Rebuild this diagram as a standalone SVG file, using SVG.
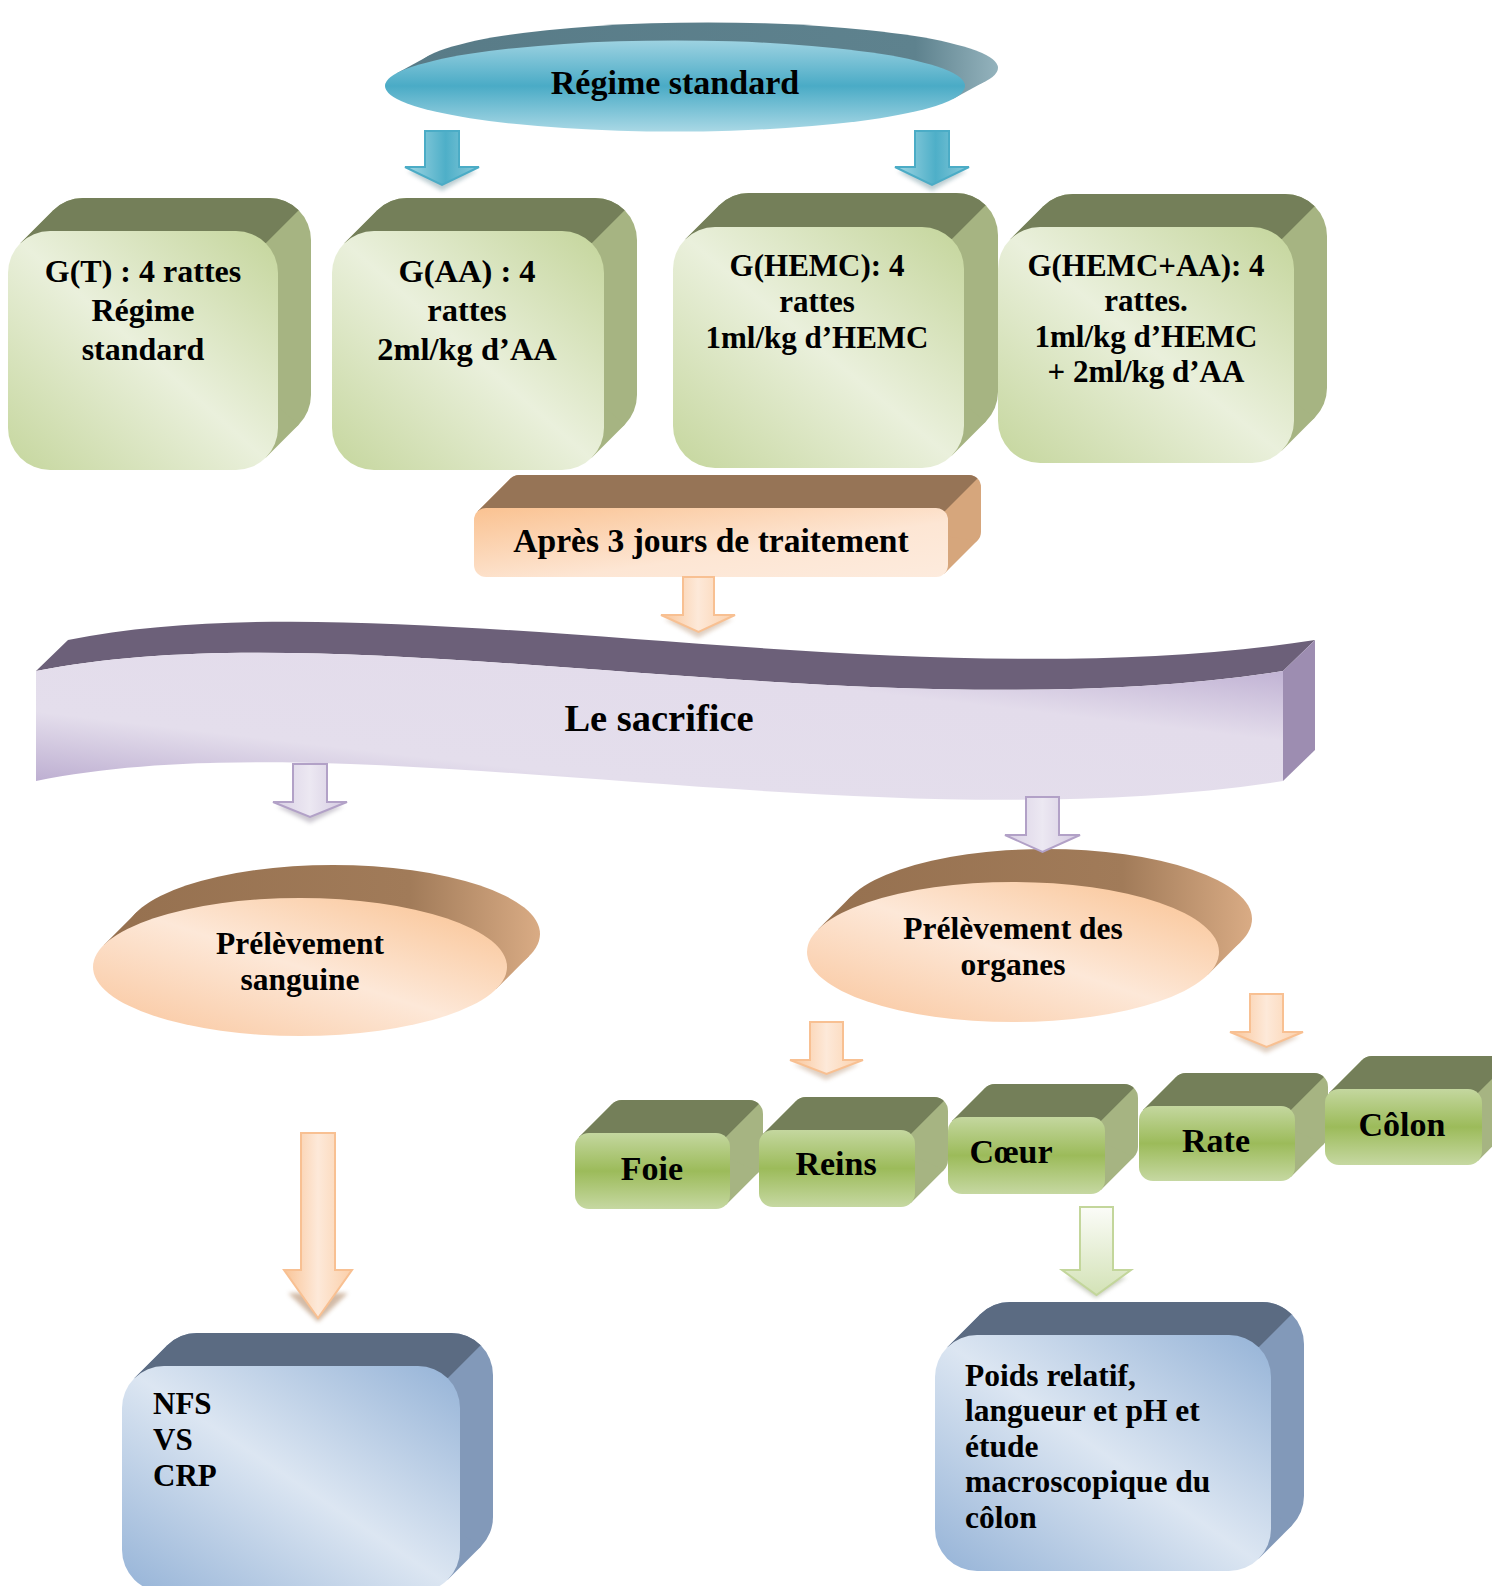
<svg xmlns="http://www.w3.org/2000/svg" width="1492" height="1586" viewBox="0 0 1492 1586">
<defs>
<style>
.t{font-family:"Liberation Serif","Times New Roman",serif;font-weight:bold;fill:#000;text-anchor:middle}
.tl{font-family:"Liberation Serif","Times New Roman",serif;font-weight:bold;fill:#000;text-anchor:start}
.gtop{fill:#747f59}
.gside{fill:#a6b482}
.btop{fill:#5b6b82}
.bside{fill:#8299b9}
.otop{fill:#967456}
.oside{fill:#d6a67c}
</style>
<linearGradient id="gFront" x1="0" y1="1" x2="1" y2="0">
<stop offset="0" stop-color="#c5d69d"/><stop offset="0.5" stop-color="#eaf0dc"/><stop offset="1" stop-color="#c4d59b"/>
</linearGradient>
<linearGradient id="gOrgan" x1="0" y1="0" x2="0" y2="1">
<stop offset="0" stop-color="#c4d79f"/><stop offset="0.5" stop-color="#9cbb5a"/><stop offset="1" stop-color="#c6d8a2"/>
</linearGradient>
<linearGradient id="bFront" x1="0" y1="1" x2="1" y2="0">
<stop offset="0" stop-color="#95b3d7"/><stop offset="0.5" stop-color="#dce6f2"/><stop offset="1" stop-color="#95b3d7"/>
</linearGradient>
<linearGradient id="oFront" x1="0" y1="1" x2="1" y2="0">
<stop offset="0" stop-color="#f9c49a"/><stop offset="0.5" stop-color="#fde8d8"/><stop offset="1" stop-color="#f9c08e"/>
</linearGradient>
<linearGradient id="aFront" x1="0" y1="0" x2="1" y2="1">
<stop offset="0" stop-color="#fac291"/><stop offset="0.6" stop-color="#fde6d4"/><stop offset="1" stop-color="#fdebdd"/>
</linearGradient>
<linearGradient id="tealFront" x1="0" y1="0" x2="0" y2="1">
<stop offset="0" stop-color="#9dd2e1"/><stop offset="0.5" stop-color="#4aabc6"/><stop offset="1" stop-color="#a9d8e5"/>
</linearGradient>
<linearGradient id="tealBack" gradientUnits="userSpaceOnUse" x1="396" y1="0" x2="1000" y2="0">
<stop offset="0" stop-color="#587b87"/><stop offset="0.86" stop-color="#5e828e"/><stop offset="1" stop-color="#95b4be"/>
</linearGradient>
<linearGradient id="oBackL" gradientUnits="userSpaceOnUse" x1="100" y1="0" x2="542" y2="0">
<stop offset="0" stop-color="#95704f"/><stop offset="0.7" stop-color="#a17b59"/><stop offset="1" stop-color="#daac85"/>
</linearGradient>
<linearGradient id="oBackR" gradientUnits="userSpaceOnUse" x1="815" y1="0" x2="1254" y2="0">
<stop offset="0" stop-color="#95704f"/><stop offset="0.7" stop-color="#a17b59"/><stop offset="1" stop-color="#daac85"/>
</linearGradient>
<linearGradient id="pFront" x1="0" y1="1" x2="1" y2="0">
<stop offset="0" stop-color="#b3a2ca"/><stop offset="0.3" stop-color="#e4deec"/><stop offset="0.7" stop-color="#e3dceb"/><stop offset="1" stop-color="#b8a8ce"/>
</linearGradient>
<linearGradient id="arO" x1="0" y1="0" x2="1" y2="0">
<stop offset="0" stop-color="#f9c497"/><stop offset="0.5" stop-color="#fde9d9"/><stop offset="1" stop-color="#fbcfa9"/>
</linearGradient>
<linearGradient id="arB" x1="0" y1="0" x2="1" y2="0">
<stop offset="0" stop-color="#a3d7e4"/><stop offset="0.55" stop-color="#4eafc8"/><stop offset="1" stop-color="#8ccbdb"/>
</linearGradient>
<linearGradient id="arP" x1="0" y1="0" x2="1" y2="0">
<stop offset="0" stop-color="#d8cfe4"/><stop offset="0.5" stop-color="#ece8f2"/><stop offset="1" stop-color="#d3c8e0"/>
</linearGradient>
<linearGradient id="arG" x1="0" y1="0" x2="0" y2="1">
<stop offset="0" stop-color="#fbfcf8"/><stop offset="1" stop-color="#d3e2b6"/>
</linearGradient>
<filter id="blur" x="-20%" y="-50%" width="140%" height="200%"><feGaussianBlur stdDeviation="2"/></filter>
</defs>
<rect width="1492" height="1586" fill="#ffffff"/>

<g id="regime">
<ellipse cx="708" cy="68" rx="290" ry="45.5" fill="url(#tealBack)"/>
<polygon points="396.3,73.4 429.3,55.4 986.7,80.6 953.7,98.6" fill="url(#tealBack)"/>
<ellipse cx="675" cy="86" rx="290" ry="45.5" fill="url(#tealFront)"/>
<text class="t" x="675" y="94" font-size="34">Régime standard</text>
</g>

<g id="gT">
<rect x="41" y="198" width="270" height="239" rx="42" class="gside"/>
<polygon points="20.3,243.3 53.3,210.3 298.7,424.7 265.7,457.7" class="gside"/>
<path d="M20.3,243.3 L53.3,210.3 A42,42 0 0 1 83,198 H269 A42,42 0 0 1 298.7,210.3 L265.7,243.3 Z" class="gtop"/>
<rect x="8" y="231" width="270" height="239" rx="42" fill="url(#gFront)"/>
<text class="t" font-size="32"><tspan x="143" y="282">G(T) : 4 rattes</tspan><tspan x="143" y="321">Régime</tspan><tspan x="143" y="360">standard</tspan></text>
</g>

<g id="gAA">
<rect x="365" y="198" width="272" height="239" rx="42" class="gside"/>
<polygon points="344.3,243.3 377.3,210.3 624.7,424.7 591.7,457.7" class="gside"/>
<path d="M344.3,243.3 L377.3,210.3 A42,42 0 0 1 407,198 H595 A42,42 0 0 1 624.7,210.3 L591.7,243.3 Z" class="gtop"/>
<rect x="332" y="231" width="272" height="239" rx="42" fill="url(#gFront)"/>
<text class="t" font-size="32.5"><tspan x="467" y="282">G(AA) : 4</tspan><tspan x="467" y="321">rattes</tspan><tspan x="467" y="360">2ml/kg d’AA</tspan></text>
</g>

<g id="gHEMC">
<rect x="707" y="193" width="291" height="241" rx="42" class="gside"/>
<polygon points="685.3,239.3 719.3,205.3 985.7,421.7 951.7,455.7" class="gside"/>
<path d="M685.3,239.3 L719.3,205.3 A42,42 0 0 1 749,193 H956 A42,42 0 0 1 985.7,205.3 L951.7,239.3 Z" class="gtop"/>
<rect x="673" y="227" width="291" height="241" rx="42" fill="url(#gFront)"/>
<text class="t" font-size="31"><tspan x="817" y="276">G(HEMC): 4</tspan><tspan x="817" y="312">rattes</tspan><tspan x="817" y="348">1ml/kg d’HEMC</tspan></text>
</g>

<g id="gHEMCAA">
<rect x="1031" y="194" width="296" height="236" rx="42" class="gside"/>
<polygon points="1010.3,239.3 1043.3,206.3 1314.7,417.7 1281.7,450.7" class="gside"/>
<path d="M1010.3,239.3 L1043.3,206.3 A42,42 0 0 1 1073,194 H1285 A42,42 0 0 1 1314.7,206.3 L1281.7,239.3 Z" class="gtop"/>
<rect x="998" y="227" width="296" height="236" rx="42" fill="url(#gFront)"/>
<text class="t" font-size="31"><tspan x="1146" y="276">G(HEMC+AA): 4</tspan><tspan x="1146" y="311">rattes.</tspan><tspan x="1146" y="347">1ml/kg d’HEMC</tspan><tspan x="1146" y="382">+ 2ml/kg d’AA</tspan></text>
</g>

<g id="apres">
<rect x="507" y="475" width="474" height="69" rx="12" class="oside"/>
<polygon points="477.5,511.5 510.5,478.5 977.5,540.5 944.5,573.5" class="oside"/>
<path d="M477.5,511.5 L510.5,478.5 A12,12 0 0 1 519,475 H969 A12,12 0 0 1 977.5,478.5 L944.5,511.5 Z" class="otop"/>
<rect x="474" y="508" width="474" height="69" rx="12" fill="url(#aFront)"/>
<text class="t" x="711" y="552" font-size="33.6">Après 3 jours de traitement</text>
</g>

<g id="sacrifice">
<path d="M36,671 C354,607 860,736 1283,671 L1315,640 C892,705 386,576 68,640 Z" fill="#6c6079"/>
<path d="M1283,671 L1315,640 L1315,750 L1283,781 Z" fill="#9d8db1"/>
<path d="M36,671 C354,607 860,736 1283,671 L1283,781 C860,846 354,716 36,781 Z" fill="url(#pFront)"/>
<text class="t" x="659" y="731" font-size="38.5">Le sacrifice</text>
</g>

<g id="sanguine">
<ellipse cx="333" cy="934" rx="207" ry="69" fill="url(#oBackL)"/>
<polygon points="103.6,945.2 136.6,912.2 529.4,955.8 496.4,988.8" fill="url(#oBackL)"/>
<ellipse cx="300" cy="967" rx="207" ry="69" fill="url(#oFront)"/>
<text class="t" font-size="31.5"><tspan x="300" y="954">Prélèvement</tspan><tspan x="300" y="990">sanguine</tspan></text>
</g>

<g id="organes">
<ellipse cx="1046" cy="919" rx="206" ry="70" fill="url(#oBackR)"/>
<polygon points="818,929.5 851,896.5 1241,941.5 1208,974.5" fill="url(#oBackR)"/>
<ellipse cx="1013" cy="952" rx="206" ry="70" fill="url(#oFront)"/>
<text class="t" font-size="31.5"><tspan x="1013" y="939">Prélèvement des</tspan><tspan x="1013" y="975">organes</tspan></text>
</g>

<g id="foie">
<rect x="608" y="1100" width="155" height="76" rx="14" class="gside"/>
<polygon points="579.1,1137.1 612.1,1104.1 758.9,1171.9 725.9,1204.9" class="gside"/>
<path d="M579.1,1137.1 L612.1,1104.1 A14,14 0 0 1 622,1100 H749 A14,14 0 0 1 758.9,1104.1 L725.9,1137.1 Z" class="gtop"/>
<rect x="575" y="1133" width="155" height="76" rx="14" fill="url(#gOrgan)"/>
<text class="t" x="652" y="1180" font-size="34">Foie</text>
</g>

<g id="reins">
<rect x="792" y="1097" width="156" height="77" rx="14" class="gside"/>
<polygon points="763.1,1134.1 796.1,1101.1 943.9,1169.9 910.9,1202.9" class="gside"/>
<path d="M763.1,1134.1 L796.1,1101.1 A14,14 0 0 1 806,1097 H934 A14,14 0 0 1 943.9,1101.1 L910.9,1134.1 Z" class="gtop"/>
<rect x="759" y="1130" width="156" height="77" rx="14" fill="url(#gOrgan)"/>
<text class="t" x="836" y="1175" font-size="34">Reins</text>
</g>

<g id="coeur">
<rect x="981" y="1084" width="157" height="77" rx="14" class="gside"/>
<polygon points="952.1,1121.1 985.1,1088.1 1133.9,1156.9 1100.9,1189.9" class="gside"/>
<path d="M952.1,1121.1 L985.1,1088.1 A14,14 0 0 1 995,1084 H1124 A14,14 0 0 1 1133.9,1088.1 L1100.9,1121.1 Z" class="gtop"/>
<rect x="948" y="1117" width="157" height="77" rx="14" fill="url(#gOrgan)"/>
<text class="t" x="1011" y="1163" font-size="34">Cœur</text>
</g>

<g id="rate">
<rect x="1172" y="1073" width="156" height="75" rx="14" class="gside"/>
<polygon points="1143.1,1110.1 1176.1,1077.1 1323.9,1143.9 1290.9,1176.9" class="gside"/>
<path d="M1143.1,1110.1 L1176.1,1077.1 A14,14 0 0 1 1186,1073 H1314 A14,14 0 0 1 1323.9,1077.1 L1290.9,1110.1 Z" class="gtop"/>
<rect x="1139" y="1106" width="156" height="75" rx="14" fill="url(#gOrgan)"/>
<text class="t" x="1216" y="1152" font-size="34">Rate</text>
</g>

<g id="colon">
<rect x="1358" y="1056" width="157" height="76" rx="14" class="gside"/>
<polygon points="1329.1,1093.1 1362.1,1060.1 1510.9,1127.9 1477.9,1160.9" class="gside"/>
<path d="M1329.1,1093.1 L1362.1,1060.1 A14,14 0 0 1 1372,1056 H1501 A14,14 0 0 1 1510.9,1060.1 L1477.9,1093.1 Z" class="gtop"/>
<rect x="1325" y="1089" width="157" height="76" rx="14" fill="url(#gOrgan)"/>
<text class="t" x="1402" y="1136" font-size="34">Côlon</text>
</g>

<g id="nfs">
<rect x="155" y="1333" width="338" height="226" rx="42" class="bside"/>
<polygon points="134.3,1378.3 167.3,1345.3 480.7,1546.7 447.7,1579.7" class="bside"/>
<path d="M134.3,1378.3 L167.3,1345.3 A42,42 0 0 1 197,1333 H451 A42,42 0 0 1 480.7,1345.3 L447.7,1378.3 Z" class="btop"/>
<rect x="122" y="1366" width="338" height="226" rx="42" fill="url(#bFront)"/>
<text class="tl" font-size="31"><tspan x="153" y="1414">NFS</tspan><tspan x="153" y="1450">VS</tspan><tspan x="153" y="1486">CRP</tspan></text>
</g>

<g id="poids">
<rect x="968" y="1302" width="336" height="236" rx="42" class="bside"/>
<polygon points="947.3,1347.3 980.3,1314.3 1291.7,1525.7 1258.7,1558.7" class="bside"/>
<path d="M947.3,1347.3 L980.3,1314.3 A42,42 0 0 1 1010,1302 H1262 A42,42 0 0 1 1291.7,1314.3 L1258.7,1347.3 Z" class="btop"/>
<rect x="935" y="1335" width="336" height="236" rx="42" fill="url(#bFront)"/>
<text class="tl" font-size="31.5"><tspan x="965" y="1386">Poids relatif,</tspan><tspan x="965" y="1421">langueur et pH et</tspan><tspan x="965" y="1457">étude</tspan><tspan x="965" y="1492">macroscopique du</tspan><tspan x="965" y="1528">côlon</tspan></text>
</g>

<g id="connectors" stroke-width="2" stroke-linejoin="miter">
<polygon points="407,171 477,171 442,191" fill="#3e6f7c" opacity="0.35" filter="url(#blur)"/>
<path d="M425,131 H459 V167 H479 L442,185 L405,167 H425 Z" fill="url(#arB)" stroke="#4bacc6"/>
<polygon points="897,171 967,171 932,191" fill="#3e6f7c" opacity="0.35" filter="url(#blur)"/>
<path d="M915,131 H949 V167 H969 L932,185 L895,167 H915 Z" fill="url(#arB)" stroke="#4bacc6"/>
<polygon points="664,619 733,619 698,638" fill="#a5774f" opacity="0.35" filter="url(#blur)"/>
<path d="M683,577 H714 V615 H735 L698.5,632 L661,615 H683 Z" fill="url(#arO)" stroke="#f8c092"/>
<polygon points="276,806 344,806 310,823" fill="#6c6079" opacity="0.35" filter="url(#blur)"/>
<path d="M293,764 H327 V802 H347 L310,817 L273,802 H293 Z" fill="url(#arP)" stroke="#b2a1c7"/>
<path d="M1026,797 H1059 V835 H1080 L1042.5,852 L1005,835 H1026 Z" fill="url(#arP)" stroke="#b2a1c7"/>
<polygon points="793,1064 860,1064 826,1080" fill="#a5774f" opacity="0.35" filter="url(#blur)"/>
<path d="M810,1022 H843 V1060 H863 L826.5,1074 L790,1060 H810 Z" fill="url(#arO)" stroke="#f8c092"/>
<polygon points="1233,1036 1300,1036 1266,1053" fill="#a5774f" opacity="0.35" filter="url(#blur)"/>
<path d="M1250,994 H1283 V1032 H1303 L1266.5,1047 L1230,1032 H1250 Z" fill="url(#arO)" stroke="#f8c092"/>
<polygon points="288,1293 348,1293 318,1322" fill="#a5774f" opacity="0.5" filter="url(#blur)"/>
<path d="M301,1133 H335 V1270 H352 L318,1318 L284,1270 H301 Z" fill="url(#arO)" stroke="#f8c092"/>
<polygon points="1066,1277 1127,1277 1096,1298" fill="#76805c" opacity="0.4" filter="url(#blur)"/>
<path d="M1080,1207 H1113 V1270 H1131 L1096.5,1295 L1062,1270 H1080 Z" fill="url(#arG)" stroke="#c3d69b"/>
</g>
</svg>
